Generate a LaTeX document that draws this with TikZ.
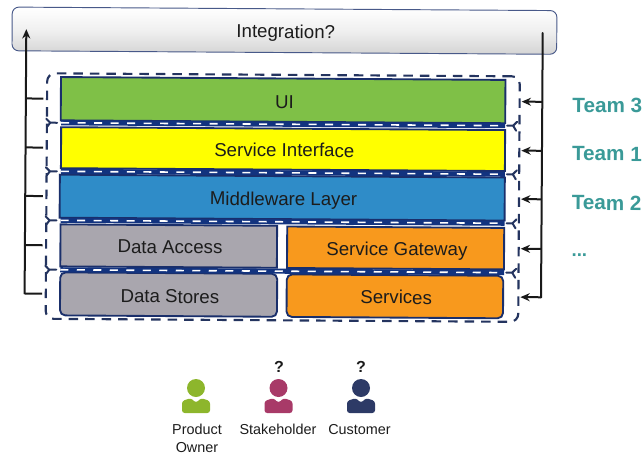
\documentclass[tikz,border=0pt]{standalone}
\usepackage{fontspec}
\setmainfont{Liberation Sans}
\usetikzlibrary{arrows.meta,calc}
\def\px{0.75pt}
\newcommand{\nudge}{\hspace*{2pt}}
\definecolor{navy}{HTML}{1A2F6B}
\definecolor{dashnavy}{HTML}{24345F}
\definecolor{barnavy}{HTML}{12337F}
\definecolor{lgreen}{HTML}{7FC047}
\definecolor{lyellow}{RGB}{255,255,0}
\definecolor{lblue}{HTML}{2F8CC8}
\definecolor{lgrey}{HTML}{A9A6AE}
\definecolor{lorange}{HTML}{F8991D}
\definecolor{teamteal}{HTML}{3A9A98}
\definecolor{txt}{HTML}{1C1C1C}
\definecolor{pgreen}{HTML}{8DB62C}
\definecolor{pred}{HTML}{A83A68}
\definecolor{pnavy}{HTML}{2D3A66}
\tikzset{
  layer/.style={draw=navy,line width=1.4pt,inner sep=0pt,text depth=0pt,font=\fontsize{14}{16}\selectfont,text=txt,transform shape},
  outerbox/.style={draw=dashnavy,line width=1.6pt,rounded corners=6pt,inner sep=0pt,dash pattern=on 9.5*\px off 7*\px,transform shape},
  integ/.style={draw=navy!80,line width=0.7pt,rounded corners=5pt,inner sep=0pt,text depth=0pt,top color=white,bottom color=black!17,middle color=black!6,font=\fontsize{14}{16}\selectfont,text=txt,transform shape},
  trunk/.style={draw=black!90,line width=1.5pt},
  arrowed/.style={trunk,-{Stealth[length=7pt,width=6pt]}},
  team/.style={font=\bfseries\fontsize{15.5}{18}\selectfont,text=teamteal,transform shape},
  who/.style={font=\fontsize{10.8}{13.5}\selectfont,text=txt,align=center,inner sep=0pt},
  query/.style={font=\bfseries\fontsize{12}{14}\selectfont,text=txt},
  barbase/.style={draw=barnavy,line width=3.8pt},
  bartop/.style={draw=white,line width=1.2pt,dash pattern=on 8*\px off 8.5*\px},
  fork/.style={draw=dashnavy,line width=1.5pt,line cap=round},
  person/.pic={
    \fill[pic actions] (0,-10) circle (9);
    \fill[pic actions,rounded corners=2pt] (-14,15) -- (-14,3) -- (-5,0) -- (0,5) -- (5,0) -- (14,3) -- (14,15) -- cycle;
  }
}
\begin{document}
\begin{tikzpicture}[x=0.75pt,y=-0.75pt]
\useasboundingbox (0,0) rectangle (643,454);
\begin{scope}[rotate=-0.37]
  \node[integ,text height=11pt,minimum width=544.7*\px,minimum height=43.7*\px] (integration) at (284.65,28.85) {\nudge Integration?};
  \node[outerbox,minimum width=472.6*\px,minimum height=245.5*\px] (outer) at (284,195.75) {};

  \node[layer,text height=12.4pt,fill=lgreen,minimum width=444.5*\px,minimum height=43.3*\px] (ui) at (283.75,98.3) {\nudge UI};
  \node[layer,text height=11.4pt,fill=lyellow,minimum width=444*\px,minimum height=41*\px] (iface) at (284,147.3) {\nudge Service Interface};
  \node[layer,text height=11.7pt,fill=lblue,minimum width=445*\px,minimum height=43*\px] (mid) at (283.5,195.8) {\nudge Middleware Layer};
  \node[layer,text height=10.8pt,fill=lgrey,minimum width=216.6*\px,minimum height=42*\px] (access) at (170.3,245) {\nudge Data Access};
  \node[layer,text height=11.5pt,fill=lorange,minimum width=217*\px,minimum height=41.5*\px] (gateway) at (397.2,245.4) {\nudge Service Gateway};
  \node[layer,text height=12.6pt,fill=lgrey,rounded corners=4pt,minimum width=217*\px,minimum height=43*\px] (stores) at (170.5,293.5) {\nudge Data Stores};
  \node[layer,text height=11.4pt,fill=lorange,rounded corners=4pt,minimum width=216.5*\px,minimum height=42.5*\px] (services) at (396.8,293.8) {\nudge Services};

  \foreach \n/\y in {b1/122.4,b2/171,b3/220,b4/269.4}{
    \coordinate (\n L) at (62,\y);
    \coordinate (\n R) at (506,\y);
    \draw[barbase] (\n L) -- (\n R);
    \draw[bartop] (\n L) -- (\n R);
    \draw[fork] (\n L) ++(-4,0) -- ++(-7,0) -- ++(-4,-4);
    \draw[fork] (\n L) ++(-11,0) -- ++(-3,4);
    \draw[fork] (\n R) ++(2,0) -- ++(6,0) -- ++(4,-4);
    \draw[fork] (\n R) ++(8,0) -- ++(3,5);
  }

  \coordinate (ltop) at (26.5,29);
  \coordinate (lbot) at (26.5,294);
  \coordinate (rtop) at (543,29.5);
  \coordinate (rbot) at (543,294);
  \draw[arrowed] (lbot) -- (ltop);
  \draw[trunk,line cap=round] (rtop) -- (rbot);
  \foreach \n in {ui,iface,mid,access,stores}
    \draw[trunk] (lbot |- \n) -- ([xshift=-2.5*\px]outer.west |- \n);
  \foreach \n in {ui,iface,mid,gateway,services}
    \draw[arrowed] (rbot |- \n) -- ([xshift=1*\px]outer.east |- \n);

  \node[team] (t3) at (608,101.5) {Team 3};
  \node[team] (t1) at (608,150) {Team 1};
  \node[team] (t2) at (608,199) {Team 2};
  \node[team,font=\bfseries\fontsize{14}{18}\selectfont] (t4) at (581,251) {...};
\end{scope}

\foreach \x/\c in {196/pgreen,278.5/pred,361/pnavy}
  \pic[fill=\c] at (\x,398) {person};
\node[query] (q1) at (279,367) {?};
\node[query] (q2) at (361,367) {?};
\node[who,anchor=north] (po) at (197,424) {Product\\Owner};
\node[who,anchor=north] (sh) at (278,424) {Stakeholder};
\node[who,anchor=north] (cu) at (359.5,424) {Customer};
\end{tikzpicture}
\end{document}
